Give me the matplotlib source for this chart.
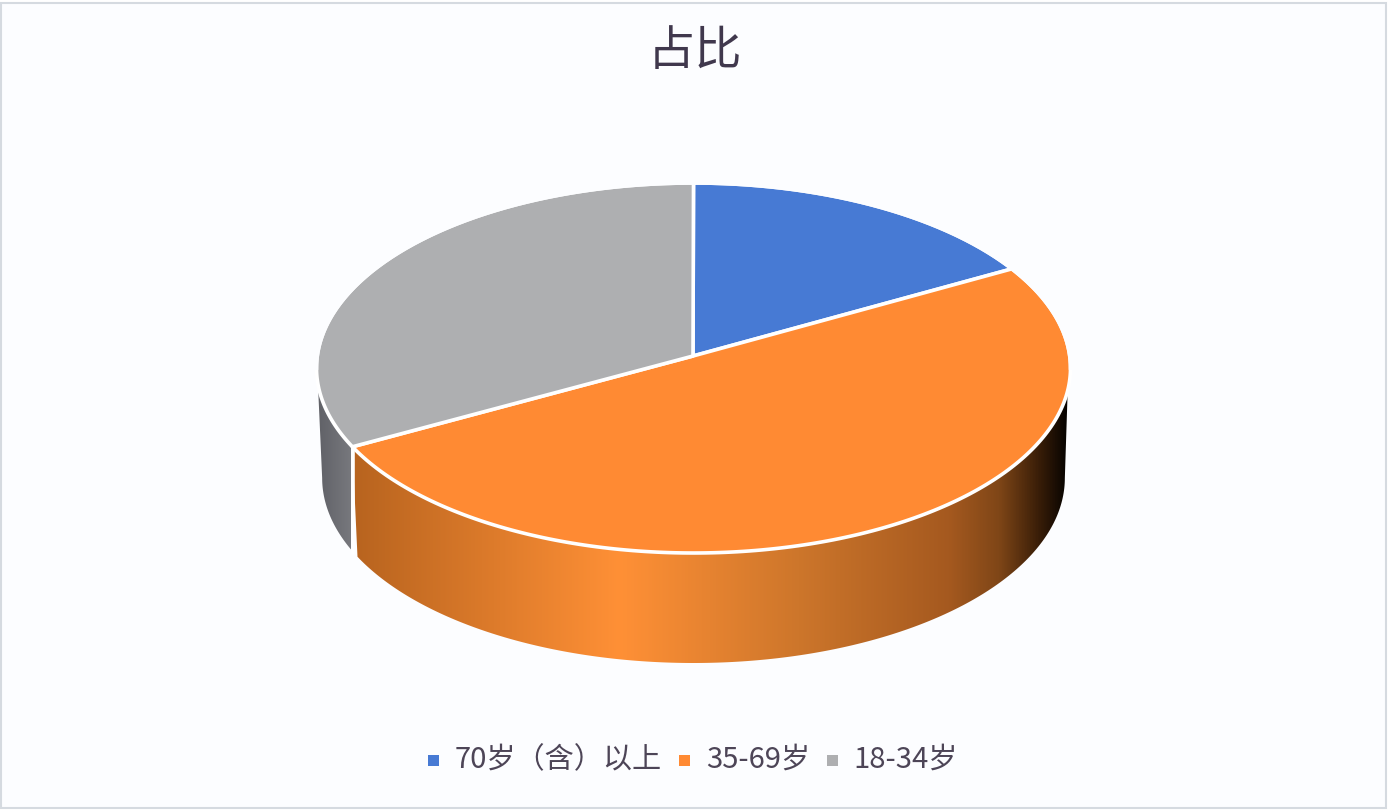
# plot.py - 3D style pie of age shares

import numpy as np
import matplotlib
matplotlib.use('Agg')
import matplotlib.pyplot as plt
from matplotlib.colors import LinearSegmentedColormap
from matplotlib.patches import Polygon, Rectangle

plt.rcParams['font.family'] = ['Noto Sans CJK SC', 'DejaVu Sans']

title = '占比'
labels = ['70岁（含）以上', '35-69岁', '18-34岁']
shares = [16.0, 52.0, 32.0]
colors = ['#477ad4', '#ff8a33', '#aeafb1']

W, H = 1388, 810
cx, cy, rx, ry = 693.5, 368, 377, 185
apex = (693, 356)
depth = 110


def rim(t):
    # t in degrees, clockwise from the top of the ellipse
    t = np.radians(t)
    return np.column_stack([cx + rx * np.sin(t), cy - ry * np.cos(t)])


def lower_rim(t):
    # the far end of the disc looks a little narrower
    top = rim(t)
    return np.column_stack([cx + (top[:, 0] - cx) * 0.985, top[:, 1] + depth])


fig = plt.figure(figsize=(W / 100, H / 100), dpi=100, facecolor='white')
ax = fig.add_axes([0, 0, 1, 1])
ax.set_xlim(0, W)
ax.set_ylim(H, 0)
ax.axis('off')

ax.add_patch(Rectangle((1.5, 2.5), W - 3, H - 5, facecolor='#fcfdff', edgecolor='#d5dae0', linewidth=1.5))

edges = np.concatenate([[0], np.cumsum(shares)]) / np.sum(shares) * 360

# side wall, only the part of each slice that faces the viewer
orange_cmap = LinearSegmentedColormap.from_list('orange_wall', [
    (0.00, '#b8641f'), (0.37, '#ff9036'), (0.62, '#cd762b'), (0.83, '#a5591f'),
    (0.90, '#7f4617'), (0.955, '#3a1e08'), (1.00, '#000000')])
grey_cmap = LinearSegmentedColormap.from_list('grey_wall', ['#5f6066', '#77787d'])
walls = [
    (97, edges[2], 90, edges[2], orange_cmap, 354, 1072),
    (edges[2], 265, edges[2] - 1, 270, grey_cmap, 316, 351),
]

for t0, t1, b0, b1, cmap, x0, x1 in walls:
    top = rim(np.linspace(t0, t1, 200))
    bottom = lower_rim(np.linspace(b0, b1, 200))
    wall = Polygon(np.vstack([top, bottom[::-1]]), closed=True, transform=ax.transData,
                   facecolor='none', edgecolor='none')
    ax.add_patch(wall)
    im = ax.imshow(np.linspace(0, 1, 256)[None, :], cmap=cmap, aspect='auto',
                   extent=[x0, x1, H, 0], zorder=2)
    im.set_clip_path(wall)
ax.set_xlim(0, W)
ax.set_ylim(H, 0)

# white gap between the grey and orange walls
gap = rim(np.array([edges[2]]))[0]
ax.plot([gap[0] + 1, gap[0] + 1], [gap[1], gap[1] + depth - 4], color='white', lw=2.6, zorder=3)

# top face
for i in range(len(shares)):
    arc = rim(np.linspace(edges[i], edges[i + 1], 200))
    ax.add_patch(Polygon(np.vstack([apex, arc]), closed=True, facecolor=colors[i],
                         edgecolor='white', linewidth=2.6, joinstyle='round', zorder=4))

# keep the white rim only where it shows against the wall
back = rim(np.linspace(-90, 90, 300))
ax.plot(back[:, 0], back[:, 1], color='#fcfdff', lw=2.6, zorder=5)

ax.text(695, 52, title, fontsize=34, color='#40384d', ha='center', va='center')

# legend
legend_x = [434, 685, 833]
text_x = [455, 706, 853]
for lab, col, mx, tx in zip(labels, colors, legend_x, text_x):
    ax.add_patch(Rectangle((mx - 5.5, 754.5), 11, 11, facecolor=col, edgecolor='none', zorder=4))
    ax.text(tx, 760, lab, fontsize=21, color='#4d4557', ha='left', va='center')

fig.savefig('out.png', dpi=100)
